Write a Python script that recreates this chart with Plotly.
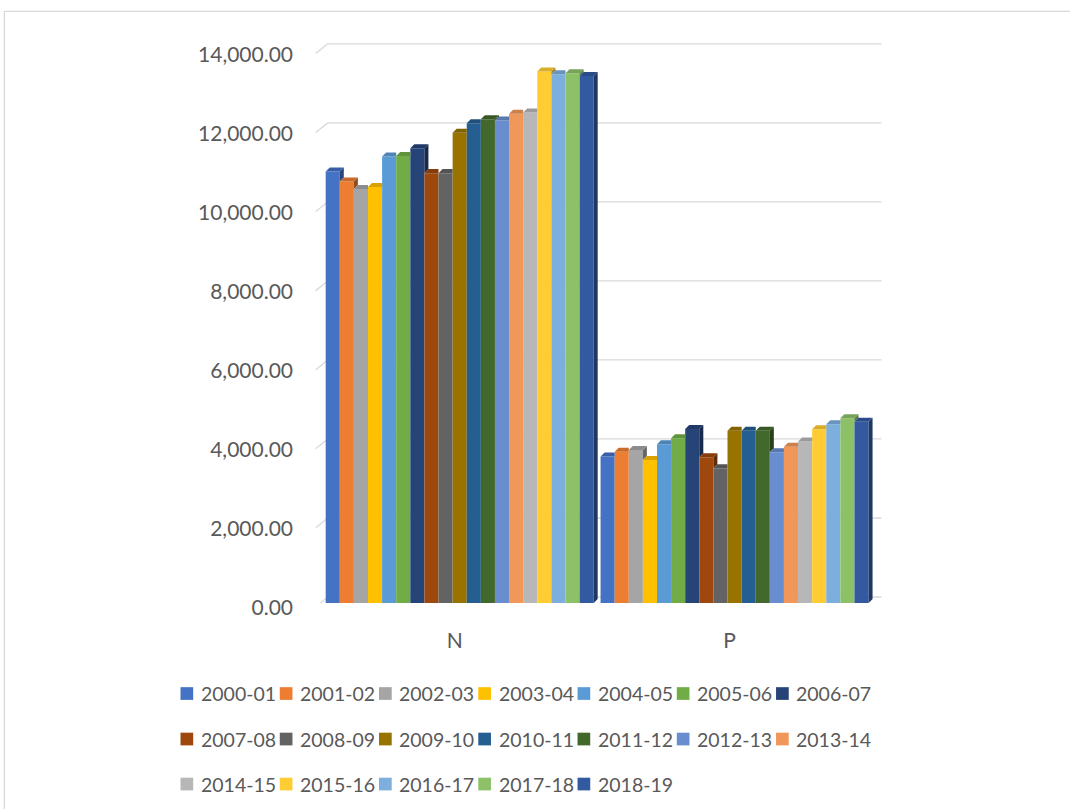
import plotly.graph_objects as go

# ---------------- data ----------------
categories = ["N", "P"]
seasons = ["2000-01", "2001-02", "2002-03", "2003-04", "2004-05", "2005-06", "2006-07",
           "2007-08", "2008-09", "2009-10", "2010-11", "2011-12", "2012-13", "2013-14",
           "2014-15", "2015-16", "2016-17", "2017-18", "2018-19"]
n_values = [10920, 10665, 10480, 10530, 11300, 11315, 11510, 10880, 10880, 11905,
            12145, 12245, 12210, 12380, 12415, 13450, 13385, 13410, 13340]
p_values = [3705, 3830, 3875, 3620, 4020, 4170, 4405, 3690, 3410, 4360,
            4360, 4360, 3815, 3955, 4085, 4395, 4525, 4675, 4590]
colors = ["#4472C4", "#ED7D31", "#A5A5A5", "#FFC000", "#5B9BD5", "#70AD47", "#264478",
          "#9E480E", "#636363", "#997300", "#255E91", "#43682B", "#698ED0", "#F1975A",
          "#B7B7B7", "#FFCD33", "#7CAFDD", "#8CC168", "#335AA1"]
y_ticks = [0, 2000, 4000, 6000, 8000, 10000, 12000, 14000]
legend_per_row = 7

# ---------------- style constants ----------------
FONT = "Lato"
TXT = "#595959"
GRID = "#d9d9d9"
W, H = 1070, 809
ML, MR, MT, MB = 314.25, 186.5, 38.15, 206
BARGAP = 0.025
X_RANGE = [-0.53, 1.54]
Y_RANGE = [0, 14300]
DX = 4 / 275.0          # depth offset (x units)
DY = 4 / 0.0395         # depth offset (y units)
FRONT_X = -0.5236
BACK_X = FRONT_X + 12 / 275.0
BACK_X1 = 1.5345
FRONT_DY = 3.7 / 0.0395
BACK_DY = 6 / 0.0395

PW = W - ML - MR
PH = H - MT - MB


def px2paper_x(px):
    return (px - ML) / PW


def px2paper_y(py):
    return (H - MB - py) / PH


def shade(hexcol, f):
    h = hexcol.lstrip("#")
    r, g, b = (int(h[k:k + 2], 16) for k in (0, 2, 4))
    return "rgb(%d,%d,%d)" % (int(r * f), int(g * f), int(b * f))


fig = go.Figure()
for i, s in enumerate(seasons):
    fig.add_trace(go.Bar(
        x=categories, y=[n_values[i], p_values[i]], name=s,
        marker=dict(color=colors[i], line=dict(width=0)),
        showlegend=False,
    ))

shapes = []
# back wall gridlines + left wall diagonals
for t in y_ticks:
    shapes.append(dict(type="line", xref="x", yref="y", x0=BACK_X, x1=BACK_X1,
                       y0=t + BACK_DY, y1=t + BACK_DY, line=dict(color=GRID, width=1.3),
                       layer="below"))
    shapes.append(dict(type="line", xref="x", yref="y", x0=FRONT_X, x1=BACK_X,
                       y0=t - FRONT_DY, y1=t + BACK_DY, line=dict(color=GRID, width=1.3),
                       layer="below"))

# 3D caps and sides computed from the data
n_series = len(seasons)
bw = (1 - BARGAP) / n_series
for c, vals in enumerate([n_values, p_values]):
    for i, v in enumerate(vals):
        left = c - (1 - BARGAP) / 2 + i * bw
        right = left + bw
        nxt = vals[i + 1] if i + 1 < n_series else 0
        if v > nxt:
            path = "M%f,%f L%f,%f L%f,%f L%f,%f Z" % (
                right, nxt, right, v, right + DX, v + DY, right + DX, nxt + DY)
            shapes.append(dict(type="path", xref="x", yref="y", path=path,
                               fillcolor=shade(colors[i], 0.62), line=dict(width=0),
                               layer="above"))
            top = "M%f,%f L%f,%f L%f,%f L%f,%f Z" % (
                left, v, right, v, right + DX, v + DY, left + DX, v + DY)
        else:
            top = "M%f,%f L%f,%f L%f,%f L%f,%f Z" % (
                left, v, right, v, right, v + DY, left + DX, v + DY)
        shapes.append(dict(type="path", xref="x", yref="y", path=top,
                           fillcolor=shade(colors[i], 0.85), line=dict(width=0),
                           layer="above"))

# outer chart border
shapes.append(dict(type="rect", xref="paper", yref="paper",
                   x0=px2paper_x(4.5), x1=px2paper_x(W + 20),
                   y0=px2paper_y(H + 20), y1=px2paper_y(11.5),
                   line=dict(color=GRID, width=1.3),
                   fillcolor="rgba(0,0,0,0)", layer="below"))

# legend (keys + labels) laid out in rows like the original
LEG_X0 = 180.7
LEG_PITCH = 99.3
LEG_ROW_Y = [693.5, 739.0, 784.0]
KEY = 12.7
TEXT_OFF = 18.3
annotations = []
for k, s in enumerate(seasons):
    r, j = divmod(k, legend_per_row)
    kx = LEG_X0 + j * LEG_PITCH
    ky = LEG_ROW_Y[r]
    shapes.append(dict(type="rect", xref="paper", yref="paper",
                       x0=px2paper_x(kx), x1=px2paper_x(kx + KEY),
                       y0=px2paper_y(ky + KEY / 2), y1=px2paper_y(ky - KEY / 2),
                       fillcolor=colors[k], line=dict(width=0)))
    annotations.append(dict(xref="paper", yref="paper", x=px2paper_x(kx + TEXT_OFF),
                            y=px2paper_y(ky), xanchor="left", yanchor="middle",
                            text=s, showarrow=False,
                            font=dict(family=FONT, size=19.5, color=TXT)))

fig.update_layout(
    width=W, height=H,
    margin=dict(l=ML, r=MR, t=MT, b=MB, autoexpand=False),
    paper_bgcolor="white", plot_bgcolor="rgba(0,0,0,0)",
    barmode="group", bargap=BARGAP, bargroupgap=0,
    font=dict(family=FONT, color=TXT),
    showlegend=False,
    xaxis=dict(range=X_RANGE, showgrid=False, zeroline=False, showline=False,
               ticks="", tickfont=dict(family=FONT, size=21, color=TXT),
               ticklabelstandoff=23, ticklabelshift=-5),
    yaxis=dict(range=Y_RANGE, tickvals=y_ticks, tickformat=",.2f", showgrid=False,
               zeroline=False, showline=False, ticks="",
               tickfont=dict(family=FONT, size=21, color=TXT),
               ticklabelstandoff=20, ticklabelshift=5),
    shapes=shapes,
    annotations=annotations,
)

fig.write_html("out.html")
